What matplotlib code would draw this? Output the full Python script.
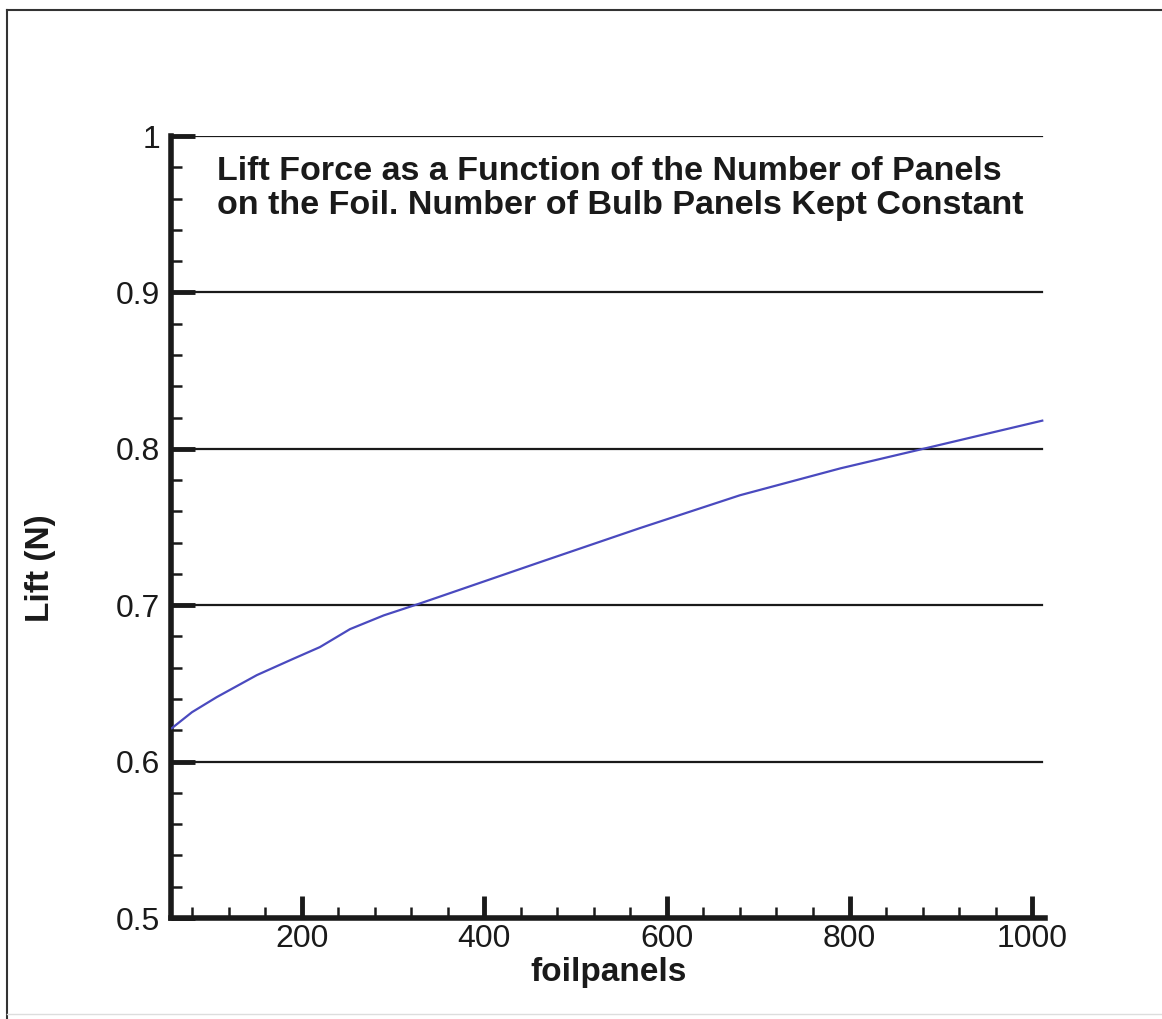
import matplotlib
matplotlib.use("Agg")
import matplotlib.pyplot as plt
from matplotlib.lines import Line2D
from matplotlib.ticker import MultipleLocator

plt.rcParams['font.family'] = ['Liberation Sans', 'DejaVu Sans']

# Lift versus number of foil panels
foilpanels = [58, 80, 107, 151, 190, 220, 253, 290, 329, 349, 461, 570, 680, 790, 888, 1011]
lift = [0.6214, 0.6316, 0.6412, 0.6553, 0.6655, 0.6732, 0.6847, 0.6935, 0.701, 0.705,
        0.7275, 0.7492, 0.7703, 0.7875, 0.801, 0.818]

title_lines = ["Lift Force as a Function of the Number of Panels",
               "on the Foil. Number of Bulb Panels Kept Constant"]
x_major = [200, 400, 600, 800, 1000]
y_major = [0.5, 0.6, 0.7, 0.8, 0.9, 1.0]
y_labels = ["0.5", "0.6", "0.7", "0.8", "0.9", "1"]

W, H = 1162, 1019
fig = plt.figure(figsize=(W / 100, H / 100), dpi=100)
fig.patch.set_facecolor('white')

x0, x1, y0, y1 = 171, 1045, 918, 136
ax = fig.add_axes([x0 / W, 1 - y0 / H, (x1 - x0) / W, (y0 - y1) / H])
ax.set_xlim(57, 1014)
ax.set_ylim(0.5, 1.0)

# horizontal grid at the major lift values
for yv in y_major[1:]:
    ax.axhline(yv, xmin=0, xmax=0.997, color='#1a1a1a', lw=1.6, zorder=1)

ax.plot(foilpanels, lift, color='#4a4abf', lw=1.6, zorder=3)

for s in ['top', 'right']:
    ax.spines[s].set_visible(False)
for s in ['left', 'bottom']:
    ax.spines[s].set_linewidth(4)
    ax.spines[s].set_color('#1a1a1a')

ax.set_xticks(x_major)
ax.set_xticklabels([str(v) for v in x_major])
ax.xaxis.set_minor_locator(MultipleLocator(40))
ax.set_yticks(y_major)
ax.set_yticklabels(y_labels)
ax.yaxis.set_minor_locator(MultipleLocator(0.02))

ax.tick_params(axis='x', which='major', direction='in', length=16, width=3.5,
               color='#1a1a1a', labelsize=23, pad=4)
ax.tick_params(axis='x', which='minor', direction='in', length=8, width=1.8,
               color='#1a1a1a')
ax.tick_params(axis='y', which='major', direction='in', length=17, width=3.5,
               color='#1a1a1a', labelsize=23, pad=8)
ax.tick_params(axis='y', which='minor', direction='in', length=8, width=1.8,
               color='#1a1a1a')
for lab in ax.get_xticklabels() + ax.get_yticklabels():
    lab.set_color('#1a1a1a')

fig.text(609 / W, 1 - 973 / H, "foilpanels", fontsize=24, fontweight='bold',
         color='#1a1a1a', ha='center', va='center')
fig.text(41 / W, 1 - 568 / H, "Lift (N)", fontsize=24, fontweight='bold',
         color='#1a1a1a', ha='center', va='center', rotation=90)

fig.text(217 / W, 1 - 156 / H, "\n".join(title_lines), fontsize=24.5, fontweight='bold',
         color='#1a1a1a', ha='left', va='top', linespacing=1.12)

# outer frame around the plot
fig.add_artist(Line2D([7 / W, 7 / W], [1 - 10 / H, 0], transform=fig.transFigure,
                      color='#333333', lw=1.5))
fig.add_artist(Line2D([7 / W, 1], [1 - 10 / H, 1 - 10 / H], transform=fig.transFigure,
                      color='#333333', lw=1.5))
fig.add_artist(Line2D([7 / W, 1], [1 - 1014 / H, 1 - 1014 / H], transform=fig.transFigure,
                      color='#dddddd', lw=1.0))

fig.savefig("out.png", dpi=100)
